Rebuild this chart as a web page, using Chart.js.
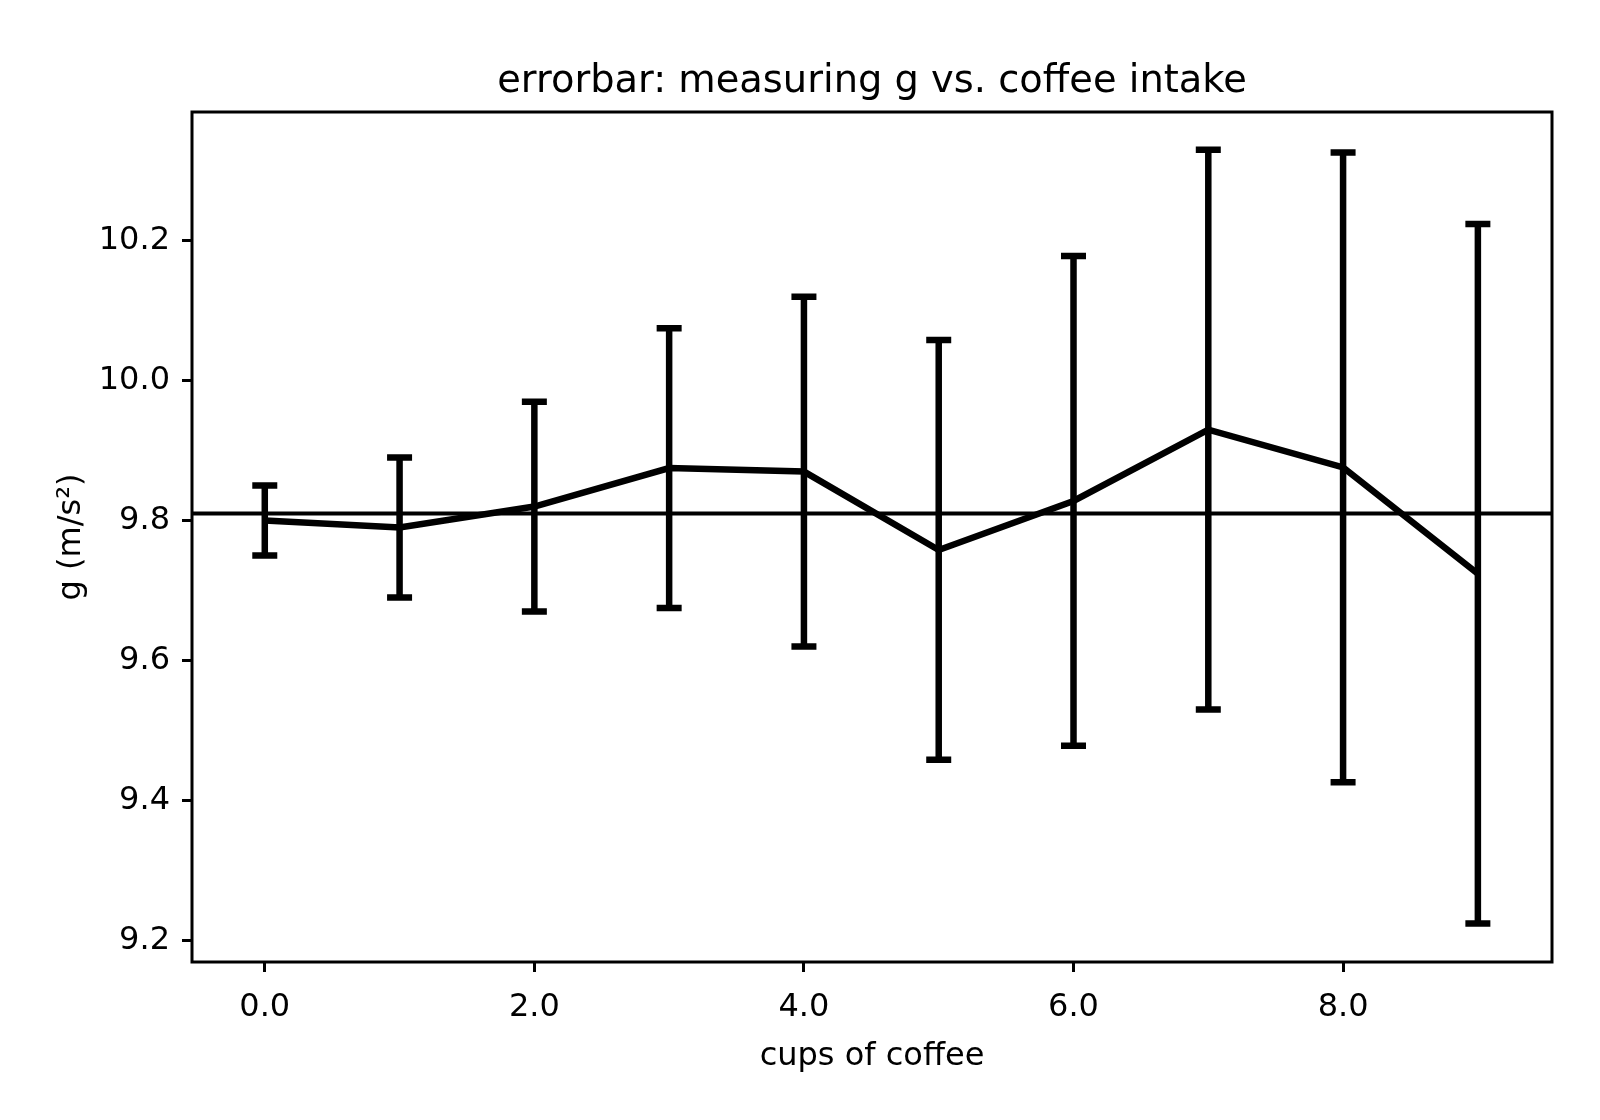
<!DOCTYPE html>
<html>
<head>
<meta charset="utf-8">
<script src="https://cdn.jsdelivr.net/npm/chart.js@4.4.1/dist/chart.umd.min.js"></script>
<style>
  html, body { margin: 0; padding: 0; background: #fff; }
  canvas { display: block; }
</style>
</head>
<body>
<canvas id="errChart" width="1600" height="1120"></canvas>
<script>
'use strict';

// values
const cups = [0, 1, 2, 3, 4, 5, 6, 7, 8, 9];
const gValues = [9.80, 9.79, 9.82, 9.875, 9.87, 9.758, 9.828, 9.93, 9.876, 9.724];
const gErrors = [0.05, 0.10, 0.15, 0.20, 0.25, 0.30, 0.35, 0.40, 0.45, 0.50];
const gRef = 9.81;

const xTicks = [0, 2, 4, 6, 8];
const yTicks = [9.2, 9.4, 9.6, 9.8, 10.0, 10.2];
const xRange = [-0.54, 9.55];
const yRange = [9.169, 10.384];

Chart.defaults.font.family = "'DejaVu Sans', sans-serif";
Chart.defaults.color = '#000';

// vertical error bars with caps, placed through the scales
const errorBars = {
  id: 'errorBars',
  afterDatasetsDraw(chart) {
    const ctx = chart.ctx;
    const x = chart.scales.x;
    const y = chart.scales.y;
    ctx.save();
    ctx.strokeStyle = '#000';
    ctx.lineWidth = 6.5;
    ctx.lineCap = 'butt';
    cups.forEach(function(c, i) {
      const px = x.getPixelForValue(c);
      const top = y.getPixelForValue(gValues[i] + gErrors[i]);
      const bot = y.getPixelForValue(gValues[i] - gErrors[i]);
      ctx.beginPath();
      ctx.moveTo(px, top);
      ctx.lineTo(px, bot);
      ctx.moveTo(px - 12.5, top);
      ctx.lineTo(px + 12.5, top);
      ctx.moveTo(px - 12.5, bot);
      ctx.lineTo(px + 12.5, bot);
      ctx.stroke();
    });
    ctx.restore();
  }
};

// box round the plot area
const frame = {
  id: 'frame',
  afterDraw(chart) {
    const a = chart.chartArea;
    const ctx = chart.ctx;
    ctx.save();
    ctx.strokeStyle = '#000';
    ctx.lineWidth = 3;
    ctx.strokeRect(a.left, a.top, a.right - a.left, a.bottom - a.top);
    ctx.restore();
  }
};

new Chart(document.getElementById('errChart'), {
  type: 'line',
  data: {
    datasets: [
      {
        data: cups.map(function(c, i) { return {x: c, y: gValues[i]}; }),
        borderColor: '#000',
        borderWidth: 6.5,
        pointRadius: 0,
        tension: 0,
        fill: false
      },
      {
        data: xRange.map(function(v) { return {x: v, y: gRef}; }),
        borderColor: '#000',
        borderWidth: 4,
        pointRadius: 0,
        fill: false
      }
    ]
  },
  plugins: [errorBars, frame],
  options: {
    responsive: false,
    animation: false,
    devicePixelRatio: 1,
    layout: { padding: { left: 0, right: 48, top: 0, bottom: 0 } },
    plugins: {
      legend: { display: false },
      tooltip: { enabled: false },
      title: {
        display: true,
        fullSize: false,
        text: 'errorbar: measuring g vs. coffee intake',
        color: '#000',
        font: { size: 38.4, weight: 'normal' },
        padding: { top: 59, bottom: 6.92 }
      }
    },
    scales: {
      x: {
        type: 'linear',
        min: xRange[0],
        max: xRange[1],
        afterBuildTicks: function(s) { s.ticks = xTicks.map(function(v) { return {value: v}; }); },
        afterFit: function(s) { s.height = 158; },
        ticks: {
          autoSkip: false,
          maxRotation: 0,
          padding: 16,
          font: { size: 32 },
          color: '#000',
          callback: function(v) { return Number(v).toFixed(1); }
        },
        grid: { display: true, drawOnChartArea: false, drawTicks: true, tickLength: 10, color: '#000', lineWidth: 3 },
        border: { display: false },
        title: { display: true, text: 'cups of coffee', color: '#000', font: { size: 32 }, padding: { top: 0, bottom: 44 } }
      },
      y: {
        type: 'linear',
        min: yRange[0],
        max: yRange[1],
        afterBuildTicks: function(s) { s.ticks = yTicks.map(function(v) { return {value: v}; }); },
        afterFit: function(s) { s.width = 192; },
        ticks: {
          autoSkip: false,
          padding: 12,
          font: { size: 32 },
          color: '#000',
          callback: function(v) { return Number(v).toFixed(1); }
        },
        grid: { display: true, drawOnChartArea: false, drawTicks: true, tickLength: 10, color: '#000', lineWidth: 3 },
        border: { display: false },
        title: { display: true, text: 'g (m/s²)', color: '#000', font: { size: 32 }, padding: { top: 52, bottom: 0 } }
      }
    }
  }
});
</script>
</body>
</html>
